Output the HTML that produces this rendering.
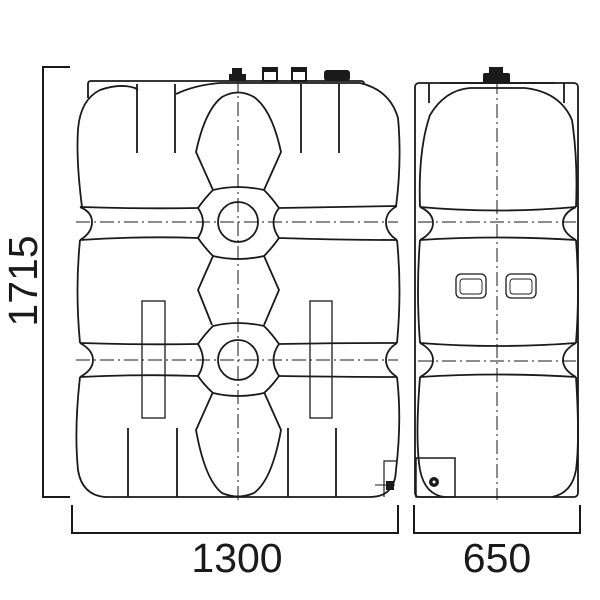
<!DOCTYPE html>
<html><head><meta charset="utf-8"><style>
html,body{margin:0;padding:0;background:#fff;}
svg{display:block}
text{font-family:"Liberation Sans",Arial,sans-serif;fill:#1a1a1a}
</style></head><body>
<svg width="600" height="600" viewBox="0 0 600 600" xmlns="http://www.w3.org/2000/svg">
<g fill="none" stroke="#1a1a1a" stroke-width="1.8">
<path d="M70 67 H43 V497 H70" stroke-width="2"/>
<path d="M72 505 V533 H398 V505" stroke-width="2"/>
<path d="M414 505 V533 H580 V505" stroke-width="2"/>

<path d="M88 98 V84 Q88 81 91 81 H361 Q364 81 364 84"/>
<g fill="#1a1a1a" stroke="none">
<rect x="229" y="74" width="17" height="7"/><rect x="232" y="68" width="10" height="6"/>
<rect x="262" y="67" width="16" height="4"/><rect x="263" y="71" width="14" height="10" fill="none" stroke="#1a1a1a" stroke-width="2"/>
<rect x="291" y="67" width="16" height="4"/><rect x="292" y="71" width="14" height="10" fill="none" stroke="#1a1a1a" stroke-width="2"/>
<rect x="324" y="70" width="26" height="11" rx="3"/>
</g>
<path d="M82 207 Q76 160 78 130 Q80 100 100 90 Q120 83 135 88 L138 90"/>
<path d="M176 94 Q195 85 220 83 L360 83 Q390 90 398 118 Q402 160 396 207"/>
<path d="M137 84 V153 M175 84 V153 M301 84 V153 M339 84 V153"/>
<path d="M213 190 L196 152 Q205 110 222 97 Q238 88 254 97 Q272 110 281 152 L264 190"/>
<path d="M213 256 L198 290 L212 325 M264 256 L279 290 L264 325"/>
<path d="M213 392 L196 430 Q205 480 222 493 Q238 500 254 493 Q272 480 281 430 L264 392"/>
<path d="M213 190 Q238 184 264 190 Q272 198 279 208 Q268 222 279 238 Q272 248 264 256 Q238 262 213 256 Q205 248 198 238 Q208 222 198 208 Q205 198 213 190 Z"/>
<path d="M213 326 Q238 320 264 326 Q272 334 279 344 Q268 360 279 376 Q272 386 264 393 Q238 399 213 393 Q205 386 198 376 Q208 360 198 344 Q205 334 213 326 Z"/>
<circle cx="238" cy="222" r="20"/>
<circle cx="238" cy="360" r="20"/>
<path d="M80 207 Q140 209 198 208 M279 208 Q340 207 397 206"/>
<path d="M80 240 Q140 236 198 238 M279 238 Q340 240 397 240"/>
<path d="M80 207 Q92 212 92 222 Q92 233 80 240 M397 206 Q386 212 386 222 Q386 233 397 240"/>
<path d="M80 343 Q140 345 198 344 M279 344 Q340 343 397 343"/>
<path d="M80 377 Q140 374 198 376 M279 376 Q340 377 397 377"/>
<path d="M80 343 Q93 350 93 360 Q93 370 80 377 M397 343 Q386 350 386 360 Q386 370 397 377"/>
<path d="M80 240 Q75 290 80 343 M397 240 Q402 290 397 343"/>
<path d="M80 377 Q74 430 78 470 Q82 495 105 497 H370 Q395 497 396 470 Q402 420 397 377"/>
<path d="M128 428 V497 M177 428 V497 M288 428 V497 M336 428 V497"/>
<rect x="142" y="301" width="23" height="117" stroke-width="1.3"/>
<rect x="310" y="301" width="22" height="117" stroke-width="1.3"/>
<path d="M384 497 V461 H397" stroke-width="1.2"/>
<path d="M375 485 H395" stroke-width="1"/>
<rect x="386" y="481" width="8" height="9" fill="#1a1a1a" stroke="none"/>

<rect x="415" y="83" width="163" height="414" rx="4"/>
<path d="M429 83 V103 M564 83 V103"/>
<path d="M440 83 H555" />
<rect x="483" y="73" width="27" height="10" rx="2" fill="#1a1a1a" stroke="none"/>
<rect x="489" y="67" width="14" height="6" fill="#1a1a1a" stroke="none"/>
<path d="M420 207 Q418 150 430 115 Q445 90 470 88 H525 Q560 92 572 120 Q578 160 576 207"/>
<path d="M420 207 Q497 214 576 207 M420 240 Q497 235 576 240"/>
<path d="M420 207 Q433 213 433 223 Q433 233 420 240 M576 207 Q563 213 563 223 Q563 233 576 240"/>
<path d="M420 240 Q416 290 420 343 M576 240 Q580 290 576 343"/>
<path d="M420 343 Q497 349 576 343 M420 377 Q497 372 576 377"/>
<path d="M420 343 Q433 350 433 360 Q433 370 420 377 M576 343 Q563 350 563 360 Q563 370 576 377"/>
<path d="M420 377 Q415 440 420 470 Q425 495 445 497 M576 377 Q580 440 576 470 Q572 493 552 497"/>
<rect x="416" y="458" width="39" height="39" stroke-width="1.5"/>
<circle cx="434" cy="482" r="5" fill="#1a1a1a" stroke="none"/>
<circle cx="434" cy="482" r="1.5" fill="#fff" stroke="none"/>
<rect x="456" y="274" width="30" height="24" rx="5" stroke-width="1.3"/>
<rect x="460" y="279" width="22" height="15" rx="3" stroke-width="0.9"/>
<rect x="506" y="274" width="30" height="24" rx="5" stroke-width="1.3"/>
<rect x="510" y="279" width="22" height="15" rx="3" stroke-width="0.9"/>

<g stroke-width="1" stroke-dasharray="14 4 2 4">
<path d="M238 78 V500"/>
<path d="M76 222 H398"/>
<path d="M76 360 H398"/>
<path d="M497 80 V500"/>
<path d="M418 222 H576"/>
<path d="M418 361 H576"/>
</g>
</g>
<text x="237" y="572" font-size="41" text-anchor="middle">1300</text>
<text x="497" y="572" font-size="41" text-anchor="middle">650</text>
<text transform="translate(37,281) rotate(-90)" font-size="41" text-anchor="middle">1715</text>
</svg>
</body></html>
